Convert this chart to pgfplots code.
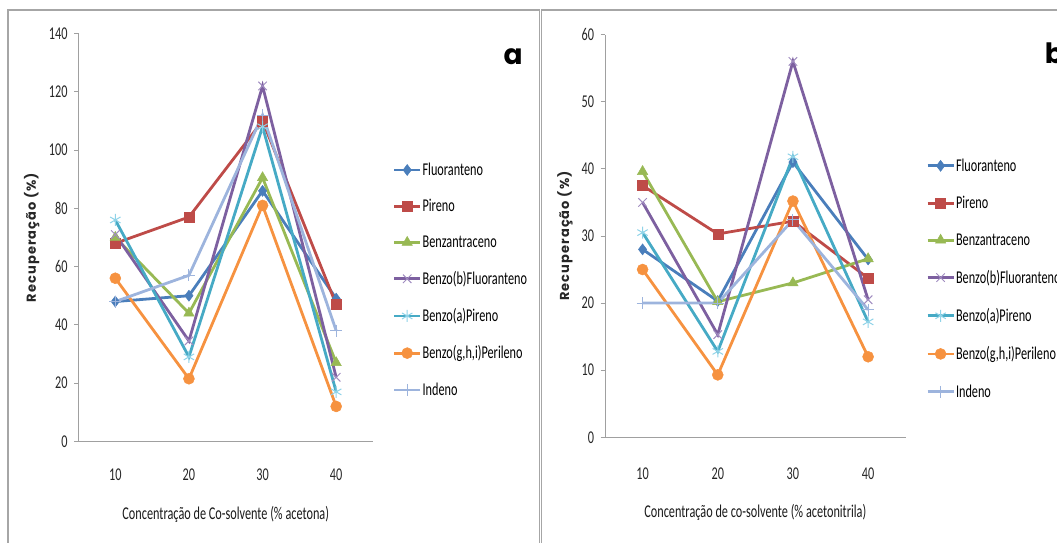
\documentclass[border=0pt]{standalone}
\usepackage{fontspec}
\setmainfont{Carlito}[FakeStretch=0.68]
\newfontfamily\gothic{Poppins}[LetterSpace=8]
\newfontfamily\gothicb{Poppins}
\usepackage{pgfplots}
\pgfplotsset{compat=1.18}
\definecolor{cF}{HTML}{4A7EBB}
\definecolor{cP}{HTML}{BE4B48}
\definecolor{cBz}{HTML}{98B954}
\definecolor{cBb}{HTML}{7D60A0}
\definecolor{cBbm}{HTML}{A08CC0}
\definecolor{cBa}{HTML}{46AAC5}
\definecolor{cBam}{HTML}{8FD3E8}
\definecolor{cBg}{HTML}{F69240}
\definecolor{cI}{HTML}{9DB4DD}
\definecolor{frame}{HTML}{A6A6A6}
\definecolor{axl}{HTML}{A0A0A0}

\pgfplotstableread{
x  F    P     Bz    Bb    Ba    Bg    I
1  48   68    70    71    76    56    48
2  50   77    44    34.5  29    21.5  57
3  86   110   90.5  122   108   81    112
4  49   47    27    22    17    12    38
}\tabA
\pgfplotstableread{
x  F    P     Bz    Bb    Ba    Bg    I
1  28   37.5  39.6  35    30.5  25    20
2  20.3 30.3  20.2  15.3  12.8  9.3   20
3  41   32.2  23    56    41.8  35.2  32.4
4  26.5 23.7  26.6  20.5  17.2  12    19
}\tabB

\pgfplotsset{
  panel/.style={
    scale only axis, clip=false,
    axis x line*=bottom, axis y line*=left,
    axis line style={-, draw=axl, line width=0.9pt},
    xmin=0.5, xmax=4.5, ymin=0,
    xtick={1,2,3,4}, xticklabels={10,20,30,40},
    major x tick style={draw=none},
    major y tick style={draw=axl, line width=0.9pt},
    tick align=outside, major tick length=4.5pt,
    /pgf/number format/assume math mode=true,
    tick label style={font=\fontsize{18}{21}\selectfont, text=black!85},
    xticklabel style={yshift=-19pt},
    yticklabel style={xshift=-3pt},
    every axis y label/.style={rotate=90, anchor=center, font=\gothic\bfseries\fontsize{13}{15}\selectfont, text=black!85},
    every axis x label/.style={anchor=center, font=\fontsize{18}{21}\selectfont, text=black!90},
    legend style={draw=none, fill=none, font=\fontsize{18}{21}\selectfont, legend cell align=left, inner sep=0pt, anchor=west, nodes={inner sep=1pt}},
    legend image code/.code={\draw[mark repeat=2,mark phase=2] plot coordinates {(0pt,0pt) (13pt,0pt) (26pt,0pt)};},
  },
  sF/.style={color=cF, line width=2.8pt, mark=diamond*, mark size=5.5pt, mark options={line width=0.5pt}},
  sP/.style={color=cP, line width=2.8pt, mark=square*, mark size=5pt, mark options={line width=0.5pt}},
  sBz/.style={color=cBz, line width=2.8pt, mark=triangle*, mark size=6pt, mark options={line width=0.5pt}},
  sBb/.style={color=cBb, line width=2.8pt, mark=x, mark size=6pt, mark options={draw=cBbm, line width=1pt}},
  sBa/.style={color=cBa, line width=2.8pt, mark=asterisk, mark size=6pt, mark options={draw=cBam, line width=1pt}},
  sBg/.style={color=cBg, line width=2.8pt, mark=*, mark size=5.5pt, mark options={line width=0.5pt}},
  sI/.style={color=cI, line width=2.8pt, mark=+, mark size=6pt, mark options={line width=1pt}},
}

\begin{document}
\begin{tikzpicture}[x=1pt,y=1pt]
\useasboundingbox (0pt,0pt) rectangle (1057pt,542pt);
\clip (0pt,0pt) rectangle (1057pt,542pt);
\draw[frame, line width=1.8pt] (7.6pt,-10pt) -- (7.6pt,531.6pt) -- (539.5pt,531.6pt) -- (539.5pt,-10pt);
\draw[frame, line width=1.8pt] (541.5pt,-10pt) -- (541.5pt,531.6pt) -- (1070pt,531.6pt);

\begin{axis}[panel, at={(78.5pt,100.6pt)}, anchor=south west,
  width=294.5pt, height=407.9pt, ymax=140, ytick distance=20,
  xlabel={Concentração de Co-solvente (\% acetona)},
  ylabel={Recuperação (\%)},
  x label style={at={(axis description cs:0.5,-0.1787)}},
  y label style={at={(axis description cs:-0.159,0.5)}},
  legend style={at={(axis description cs:1.0666,0.3957)}, row sep=20.5pt},
]
\addplot[sF] table[x=x,y=F] {\tabA};
\addplot[sP] table[x=x,y=P] {\tabA};
\addplot[sBz] table[x=x,y=Bz] {\tabA};
\addplot[sBb] table[x=x,y=Bb] {\tabA};
\addplot[sBa] table[x=x,y=Ba] {\tabA};
\addplot[sBg] table[x=x,y=Bg] {\tabA};
\addplot[sI] table[x=x,y=I] {\tabA};
\legend{Fluoranteno,Pireno,Benzantraceno,Benzo(b)Fluoranteno,Benzo(a)Pireno,{Benzo(g,h,i)Perileno},Indeno}
\end{axis}

\begin{axis}[panel, at={(605pt,104.7pt)}, anchor=south west,
  width=300.7pt, height=402.7pt, ymax=60, ytick distance=10,
  xlabel={Concentração de co-solvente (\% acetonitrila)},
  ylabel={Recuperação (\%)},
  xticklabel style={yshift=-3pt},
  x label style={at={(axis description cs:0.5,-0.187)}},
  y label style={at={(axis description cs:-0.133,0.5)}},
  legend style={at={(axis description cs:1.0675,0.3936)}, row sep=21.5pt},
]
\addplot[sF] table[x=x,y=F] {\tabB};
\addplot[sP] table[x=x,y=P] {\tabB};
\addplot[sBz] table[x=x,y=Bz] {\tabB};
\addplot[sBb] table[x=x,y=Bb] {\tabB};
\addplot[sBa] table[x=x,y=Ba] {\tabB};
\addplot[sBg] table[x=x,y=Bg] {\tabB};
\addplot[sI] table[x=x,y=I] {\tabB};
\legend{Fluoranteno,Pireno,Benzantraceno,Benzo(b)Fluoranteno,Benzo(a)Pireno,{Benzo(g,h,i)Perileno},Indeno}
\end{axis}

\node[anchor=base, font=\gothicb\bfseries\fontsize{28}{30}\selectfont] at (513pt,477.7pt) {a};
\node[anchor=base, font=\gothicb\bfseries\fontsize{28}{30}\selectfont] at (1054.4pt,478.7pt) {b};
\end{tikzpicture}
\end{document}
